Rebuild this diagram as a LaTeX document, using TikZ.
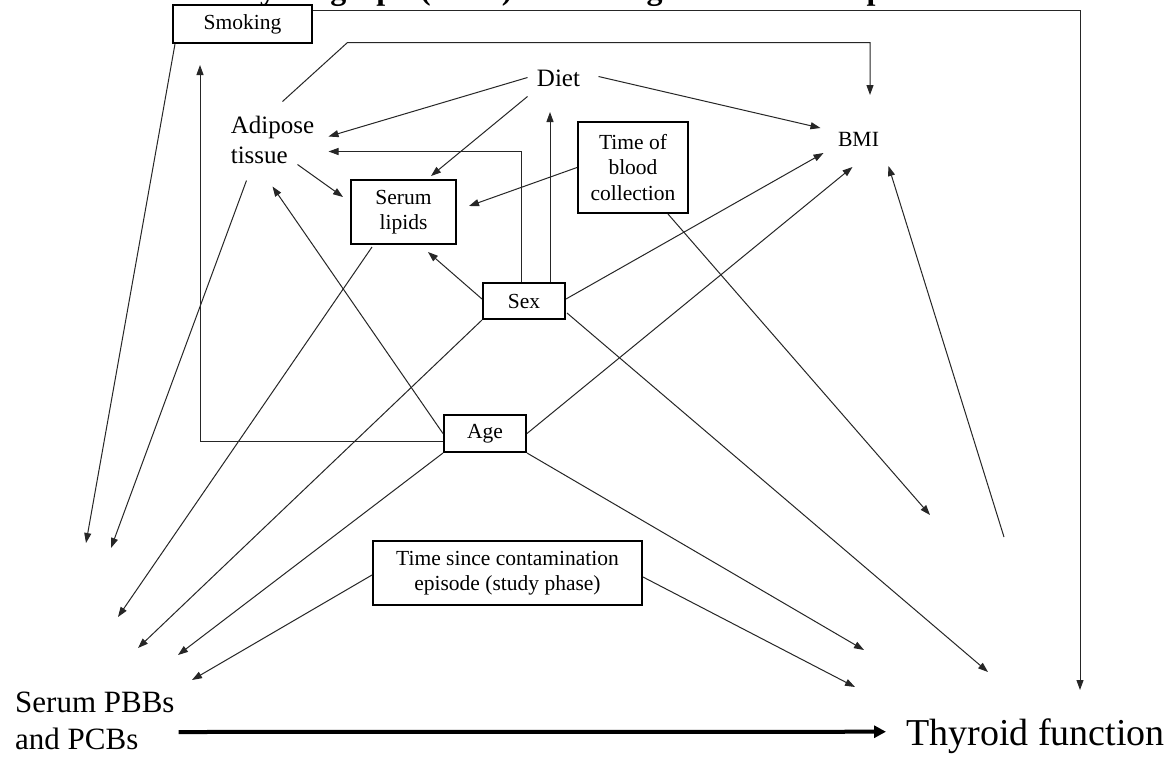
\documentclass[tikz,border=0pt]{standalone}
\usepackage{fontspec}
\setmainfont{Liberation Serif}
\usetikzlibrary{arrows.meta,calc}
\begin{document}
\begin{tikzpicture}[x=1pt,y=-1pt,
  box/.style={draw=black,line width=2.4pt,inner sep=0pt,align=center,font=\fontsize{21.5}{25.5}\selectfont},
  lbl/.style={inner sep=0pt,align=left,font=\fontsize{25}{30}\selectfont},
  conn/.style={draw=black!85,line width=1pt,-{Triangle[length=10pt,width=7pt]}},
  bigarrow/.style={draw=black,line width=4pt,-{Triangle[length=12pt,width=12pt]}}]
\fill[white] (0,0) rectangle (1168,756);
\useasboundingbox (0,0) rectangle (1168,756);

% title (cut off at the top edge, as in the reference: only descenders show)
\node[anchor=base west,inner sep=0pt,font=\fontsize{32}{36}\selectfont\bfseries] (title) at (105,-1) {Directed acyclic graph (DAG) describing the relationship};

% nodes
\node[box,fill=white,minimum width=138.6pt,minimum height=37.6pt] (smoking) at (242.5,24) {Smoking};
\node[lbl] (adipose) at (272.5,139.5) {Adipose\\tissue};
\node[lbl] (diet) at (558.5,78.5) {Diet};
\node[inner sep=0pt,font=\fontsize{21.7}{26}\selectfont] (bmi) at (858.5,139) {BMI};
\node[box,minimum width=104.6pt,minimum height=63.6pt] (lipids) at (403.5,212) {Serum\\lipids};
\node[box,minimum width=109.6pt,minimum height=90.6pt] (tobc) at (633,167.5) {Time of\\blood\\collection};
\node[box,minimum width=81.6pt,minimum height=35.6pt] (sex) at (524,301) {Sex};
\node[box,minimum width=81.6pt,minimum height=36.6pt] (age) at (485,433.5) {Age};
\node[box,minimum width=268.6pt,minimum height=63.6pt] (tsince) at (507.5,573) {Time since contamination\\episode (study phase)};
\node[inner sep=0pt,align=left,anchor=west,font=\fontsize{31}{37}\selectfont] (pbbs) at (15,721) {Serum PBBs\\and PCBs};
\node[inner sep=0pt,anchor=base west,font=\fontsize{38}{44}\selectfont] (thyroid) at (906,745) {Thyroid function};

% free ends
\coordinate (smk-t) at (200,65);
\coordinate (bmi-top) at (870,95);
\coordinate (diet-b) at (550,112);
\coordinate (p1) at (86,543);
\coordinate (p2) at (111,548);
\coordinate (p3) at (118,617);
\coordinate (p4) at (138,648);
\coordinate (p5) at (178,655);
\coordinate (p6) at (192,680);
\coordinate (t1) at (930,515);
\coordinate (t2) at (864,650);
\coordinate (t3) at (855,687);
\coordinate (t4) at (988,672);
\coordinate (t5) at (1080,690);
\coordinate (thy-s) at (1004,537);

% connectors
\draw[conn] ($(adipose.center)+(10,-38)$) -- ++(65,-59) -| (bmi-top);
\draw[conn] ($(diet.center)+(-31,-1)$) -- ($(adipose.center)+(56,-3)$);
\draw[conn] ($(diet.center)+(-31,18)$) -- ($(lipids.north)+(27.5,-3)$);
\draw[conn] ($(diet.center)+(40,-2)$) -- ($(bmi.center)+(-38,-11)$);
\draw[conn] ($(sex.north)+(-3,0)$) |- ($(adipose.center)+(56,12)$);
\draw[conn] ($(sex.north)+(26,0)$) -- (diet-b);
\draw[conn] ($(adipose.center)+(25,25)$) -- ($(lipids.west)+(-7,-15)$);
\draw[conn] (tobc.west) -- ($(lipids.east)+(12,-6)$);
\draw[conn] ($(tobc.south)+(35,0)$) -- (t1);
\draw[conn] ($(sex.west)+(0,-2)$) -- ($(lipids.south)+(24.5,7)$);
\draw[conn] ($(sex.east)+(0,-2)$) -- ($(bmi.center)+(-35,14)$);
\draw[conn] (sex.south west) -- (p4);
\draw[conn] ($(sex.east)+(1,12)$) -- (t4);
\draw[conn] (age.west) -- ($(adipose.center)+(0,47)$);
\draw[conn] ($(age.west)+(0,7.5)$) -| (smk-t);
\draw[conn] (age.east) -- ($(bmi.center)+(-6,28)$);
\draw[conn] (age.south west) -- (p5);
\draw[conn] (age.south east) -- (t2);
\draw[conn] ($(lipids.south west)+(22,2)$) -- (p3);
\draw[conn] ($(adipose.center)+(-26,41)$) -- (p2);
\draw[conn] ($(smoking.south west)+(3,0)$) -- (p1);
\draw[conn] ($(smoking.north east)+(0,6)$) -| (t5);
\draw[conn] ($(tsince.west)+(0,2)$) -- (p6);
\draw[conn] ($(tsince.east)+(0,4)$) -- (t3);
\draw[conn] (thy-s) -- ($(bmi.center)+(30,27)$);
\draw[bigarrow] ($(pbbs.east)+(4,11)$) -- ($(thyroid.west)+(-20,-4)$);
\end{tikzpicture}
\end{document}
